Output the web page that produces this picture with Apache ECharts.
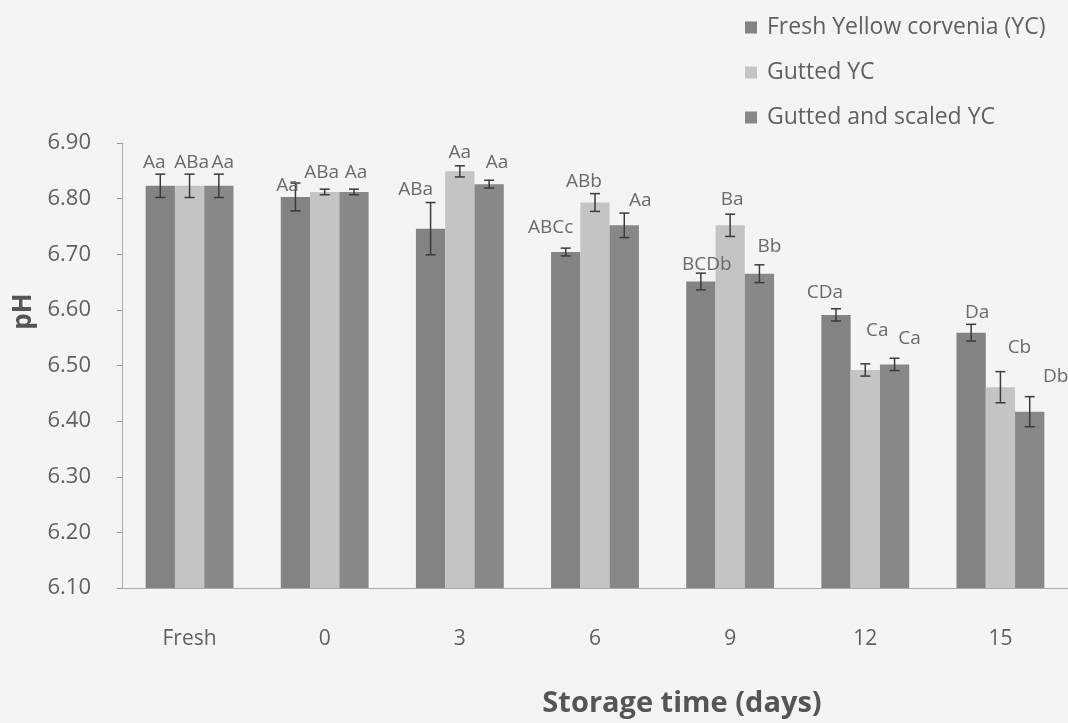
<!DOCTYPE html>
<html>
<head>
<meta charset="utf-8">
<title>pH of yellow corvenia during storage</title>
<script src="https://cdn.jsdelivr.net/npm/echarts@6/dist/echarts.min.js"></script>
<style>
  html, body { margin: 0; padding: 0; background: #f4f4f2; }
  #chart { width: 1068px; height: 723px; }
</style>
</head>
<body>
<div id="chart"></div>
<script>
// Storage days on the x axis
const categories = ['Fresh', '0', '3', '6', '9', '12', '15'];
const seriesNames = ['Fresh Yellow corvenia (YC)', 'Gutted YC', 'Gutted and scaled YC'];

// Mean pH per treatment
const freshYC  = [6.823, 6.803, 6.746, 6.704, 6.651, 6.591, 6.559];
const guttedYC = [6.823, 6.812, 6.849, 6.793, 6.752, 6.492, 6.461];
const scaledYC = [6.823, 6.812, 6.826, 6.752, 6.665, 6.502, 6.417];

// Standard deviations
const freshErr  = [0.021, 0.025, 0.047, 0.007, 0.015, 0.011, 0.015];
const guttedErr = [0.021, 0.005, 0.010, 0.016, 0.020, 0.011, 0.028];
const scaledErr = [0.021, 0.005, 0.007, 0.022, 0.016, 0.011, 0.027];

// Significance letters
const freshLetters  = ['Aa', 'Aa', 'ABa', 'ABCc', 'BCDb', 'CDa', 'Da'];
const guttedLetters = ['ABa', 'ABa', 'Aa', 'ABb', 'Ba', 'Ca', 'Cb'];
const scaledLetters = ['Aa', 'Aa', 'Aa', 'Aa', 'Bb', 'Ca', 'Db'];

// Y axis ticks
const yTicks = { min: 6.1, max: 6.9, step: 0.1 };

// Small pixel nudges for the letter labels so they don't collide: [dx, dy]
const letterNudge = [
  [[-6, 0], [-8, 14], [-15, -1], [-15, -9], [6, 3], [-11, -5], [6, 0]],
  [[2, 0], [-3, -5], [0, -2], [-11, -1], [2, -3], [12, -22], [19, -13]],
  [[4, 0], [2, -5], [8, -6], [16, -1], [10, -7], [15, -8], [26, -9]]
];

const barColors = ['#838383', '#c4c4c4', '#888888'];
const values = [freshYC, guttedYC, scaledYC];
const errors = [freshErr, guttedErr, scaledErr];
const letters = [freshLetters, guttedLetters, scaledLetters];

const CATEGORY_FILL = 0.65;   // share of a category band taken by the 3-bar group
const FONT = '"Open Sans", "Noto Sans", sans-serif';

function errorRenderer(k) {
  return function (params, api) {
    const i = api.value(0);
    const v = api.value(1);
    const e = api.value(2);
    const bandW = api.size([1, 0])[0];
    const bw = bandW * CATEGORY_FILL / 3;
    const cx = api.coord([i, v])[0] + (k - 1) * bw;
    const yHi = api.coord([i, v + e])[1];
    const yLo = api.coord([i, v - e])[1];
    const cap = 5;
    const stroke = { stroke: '#3a3a3a', lineWidth: 1.5 };
    const nudge = letterNudge[k][params.dataIndex];
    return {
      type: 'group',
      children: [
        { type: 'line', shape: { x1: cx, y1: yHi, x2: cx, y2: yLo }, style: stroke },
        { type: 'line', shape: { x1: cx - cap, y1: yHi, x2: cx + cap, y2: yHi }, style: stroke },
        { type: 'line', shape: { x1: cx - cap, y1: yLo, x2: cx + cap, y2: yLo }, style: stroke },
        {
          type: 'text',
          x: cx + nudge[0],
          y: yHi - 2 + nudge[1],
          style: {
            text: letters[k][params.dataIndex],
            fill: '#6a6a6a',
            font: '19px ' + FONT,
            align: 'center',
            verticalAlign: 'bottom'
          }
        }
      ]
    };
  };
}

const barSeries = seriesNames.map(function (name, k) {
  return {
    name: name,
    type: 'bar',
    data: values[k],
    barGap: '0%',
    barCategoryGap: '35%',
    itemStyle: { color: barColors[k] },
    z: 2
  };
});

const errSeries = seriesNames.map(function (name, k) {
  return {
    name: name + ' SD',
    type: 'custom',
    renderItem: errorRenderer(k),
    data: values[k].map(function (v, i) { return [i, v, errors[k][i]]; }),
    encode: { x: 0, y: 1 },
    z: 5,
    silent: true
  };
});

const chart = echarts.init(document.getElementById('chart'));
chart.setOption({
  backgroundColor: '#f4f4f2',
  animation: false,
  textStyle: { fontFamily: FONT },
  grid: { left: 122, right: 0, top: 143, bottom: 134 },
  legend: {
    data: seriesNames,
    orient: 'vertical',
    left: 740,
    top: 9,
    icon: 'rect',
    itemWidth: 12,
    itemHeight: 12,
    itemGap: 18,
    textStyle: { fontSize: 23, color: '#606060', lineHeight: 27, padding: [0, 0, 0, 5], fontFamily: FONT }
  },
  xAxis: {
    type: 'category',
    data: categories,
    axisTick: { show: false },
    axisLine: { lineStyle: { color: '#aaaaaa' } },
    axisLabel: { fontSize: 21, color: '#606060', margin: 41, fontFamily: FONT },
    name: 'Storage time (days)',
    nameLocation: 'middle',
    nameGap: 101,
    nameTextStyle: { fontSize: 29, fontWeight: 'bold', color: '#555555', padding: [0, 0, 0, 174], fontFamily: FONT }
  },
  yAxis: {
    type: 'value',
    min: yTicks.min,
    max: yTicks.max,
    interval: yTicks.step,
    axisLine: { show: true, lineStyle: { color: '#aaaaaa' } },
    axisTick: { show: true, length: 5, lineStyle: { color: '#999999' } },
    splitLine: { show: false },
    axisLabel: {
      fontSize: 22, color: '#606060', margin: 31, fontFamily: FONT,
      formatter: function (v) { return v.toFixed(2); }
    },
    name: 'pH',
    nameLocation: 'middle',
    nameGap: 85,
    nameTextStyle: { fontSize: 26, fontWeight: 'bold', color: '#555555', padding: [0, 0, 0, 108], fontFamily: FONT }
  },
  series: barSeries.concat(errSeries)
});
</script>
</body>
</html>
